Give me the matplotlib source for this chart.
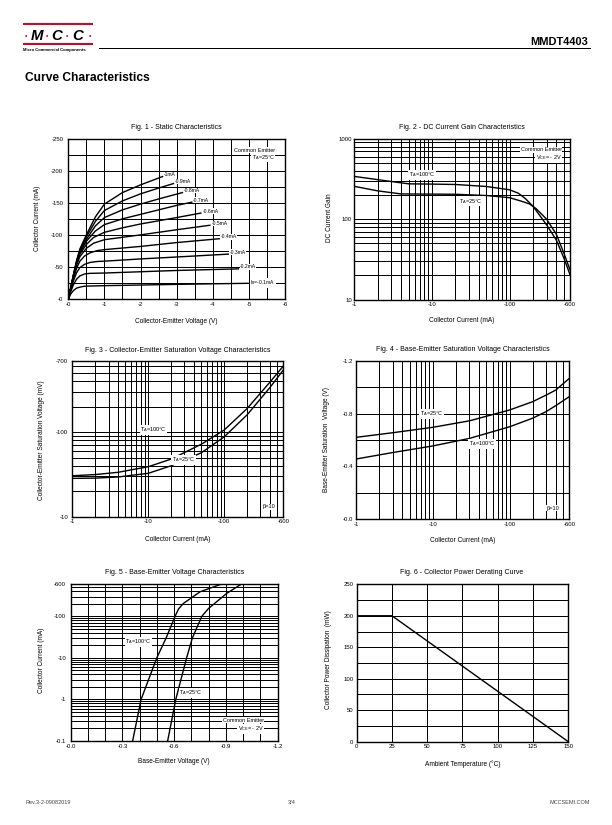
import matplotlib
matplotlib.use('Agg')
import matplotlib.pyplot as plt
from matplotlib.ticker import FixedLocator, FixedFormatter, NullFormatter
from matplotlib.patches import Rectangle

plt.rcParams['font.family'] = ['Liberation Sans', 'DejaVu Sans']
plt.rcParams['mathtext.fontset'] = 'custom'
plt.rcParams['mathtext.rm'] = 'Liberation Sans'
plt.rcParams['mathtext.it'] = 'Liberation Sans:italic'
plt.rcParams['axes.unicode_minus'] = False

# ---- Fig. 1 static characteristics (magnitudes: V, mA) ----
ib_labels = ['I$_\\mathrm{B}$=-0.1mA', '-0.2mA', '-0.3mA', '-0.4mA', '-0.5mA',
             '-0.6mA', '-0.7mA', '-0.8mA', '-0.9mA', '-1mA']
v_ib01 = [0, 0.07, 0.14, 0.23, 0.32, 0.45, 1, 2, 3, 4, 5.0]
i_ib01 = [0, 8, 13, 17, 18.5, 20, 20.8, 21.8, 22.8, 23.7, 24.5]
v_ib02 = [0, 0.07, 0.14, 0.23, 0.32, 0.45, 0.6, 1, 2, 3, 4.71]
i_ib02 = [0, 12, 22, 31, 36, 39, 40, 40.5, 42.5, 44.5, 47]
v_ib03 = [0, 0.07, 0.14, 0.23, 0.32, 0.45, 0.6, 0.8, 1, 2, 3, 4.43]
i_ib03 = [0, 14, 28, 41, 49, 54, 57, 58.5, 59, 62.5, 65.5, 70]
v_ib04 = [0, 0.07, 0.14, 0.23, 0.32, 0.45, 0.6, 0.8, 1, 2, 3, 4.18]
i_ib04 = [0, 16, 32, 48, 59, 67, 72, 75.5, 77, 82, 88, 94]
v_ib05 = [0, 0.07, 0.14, 0.23, 0.32, 0.5, 0.7, 1, 2, 3, 3.92]
i_ib05 = [0, 17, 34, 53, 66, 79, 87, 92.5, 100, 108, 115]
v_ib06 = [0, 0.07, 0.14, 0.23, 0.32, 0.5, 0.7, 1, 1.5, 2, 3, 3.67]
i_ib06 = [0, 17, 35, 55, 70, 85, 96, 104, 111, 117, 127, 134]
v_ib07 = [0, 0.07, 0.14, 0.23, 0.32, 0.5, 0.75, 1, 1.5, 2, 3, 3.42]
i_ib07 = [0, 18, 36, 57, 72, 90, 106, 116, 125, 132, 146, 151]
v_ib08 = [0, 0.07, 0.14, 0.23, 0.32, 0.5, 0.75, 1, 1.5, 2, 2.5, 3.16]
i_ib08 = [0, 18, 36, 58, 74, 93, 114, 127, 139, 148, 156, 166]
v_ib09 = [0, 0.07, 0.14, 0.23, 0.32, 0.5, 0.75, 1, 1.5, 2, 2.5, 2.91]
i_ib09 = [0, 18, 37, 59, 76, 97, 121, 138, 153, 164, 173, 180]
v_ib10 = [0, 0.07, 0.14, 0.23, 0.32, 0.5, 0.75, 1, 1.5, 2, 2.61]
i_ib10 = [0, 18, 37, 60, 78, 100, 128, 148, 166, 178, 191]

# ---- Fig. 2 DC current gain ----
ic_hfe = [1, 2, 5, 10, 20, 50, 100, 130, 160, 200, 300, 400, 500, 600]
hfe_100c = [340, 310, 275, 273, 270, 255, 232, 210, 180, 145, 85, 55, 33, 20.5]
ic_hfe25 = [1, 2, 4, 10, 20, 50, 100, 140, 180, 220, 300, 400, 500, 600]
hfe_25c = [256, 225, 206, 205, 204, 197, 185, 168, 155, 135, 100, 65, 38, 23.5]

# ---- Fig. 3 VCE(sat) ----
ic_sat = [1, 2, 4, 10, 20, 50, 100, 200, 400, 600]
vcesat_100c = [30.5, 31.5, 33.5, 39, 48, 72, 106, 190, 390, 605]
vcesat_25c = [28.4, 28.6, 29.5, 32.6, 40, 57, 88, 160, 337, 543]

# ---- Fig. 4 VBE(sat) ----
ic_besat = [1, 3, 10, 30, 100, 200, 300, 400, 600]
vbesat_25c = [0.62, 0.655, 0.696, 0.745, 0.827, 0.89, 0.94, 0.978, 1.066]
vbesat_100c = [0.456, 0.505, 0.555, 0.612, 0.70, 0.765, 0.815, 0.86, 0.928]

# ---- Fig. 5 VBE(on) ----
vbe_100c = [0.359, 0.408, 0.499, 0.553, 0.605, 0.625, 0.653, 0.75, 0.875]
ic_vbe100 = [0.1, 1, 10, 30, 100, 150, 204, 390, 600]
vbe_25c = [0.562, 0.609, 0.672, 0.705, 0.76, 0.80, 0.904, 0.99]
ic_vbe25 = [0.1, 1, 10, 30, 100, 156, 355, 600]

# ---- Fig. 6 power derating ----
temp_c = [0, 25, 150]
power_mw = [200, 200, 0]

W, H = 612, 825
fig = plt.figure(figsize=(W / 72, H / 72), dpi=72)
fig.patch.set_facecolor('white')


def box(x0, y0, x1, y1):
    return [x0 / W, 1 - y1 / H, (x1 - x0) / W, (y1 - y0) / H]


def style(ax, xt, xl, xg, yt, yl, yg, ypad):
    ax.xaxis.set_major_locator(FixedLocator(xt))
    ax.xaxis.set_major_formatter(FixedFormatter(xl))
    ax.xaxis.set_minor_locator(FixedLocator(xg))
    ax.xaxis.set_minor_formatter(NullFormatter())
    ax.yaxis.set_major_locator(FixedLocator(yt))
    ax.yaxis.set_major_formatter(FixedFormatter(yl))
    ax.yaxis.set_minor_locator(FixedLocator(yg))
    ax.yaxis.set_minor_formatter(NullFormatter())
    ax.set_axisbelow(True)
    ax.grid(True, which='both', color='black', lw=1.0)
    ax.tick_params(which='both', length=0, labelsize=6)
    ax.tick_params(axis='x', pad=2.5)
    ax.tick_params(axis='y', pad=ypad)
    for s in ax.spines.values():
        s.set_linewidth(1.4)


def labels(ax, xlab, ylab, xy, yx, yy):
    ax.set_xlabel(xlab, fontsize=6.5)
    ax.set_ylabel(ylab, fontsize=6.5)
    ax.xaxis.set_label_coords(0.5, xy)
    ax.yaxis.set_label_coords(yx, yy)


def note(ax, x, y, s, ha='left', size=5.5):
    ax.text(x, y, s, ha=ha, va='center', fontsize=size, zorder=5,
            bbox=dict(fc='white', ec='none', pad=0.5))


def title(x, y, s):
    fig.text(x / W, 1 - y / H, s, ha='center', va='center', fontsize=7)


logs_x = [m * 10 ** k for k in range(0, 3) for m in range(1, 10) if m * 10 ** k <= 600]
lw = 1.4

# ---------- header ----------
for yb in (24.3, 43.6):
    fig.add_artist(Rectangle((22.7 / W, 1 - (yb + 1) / H), 70.5 / W, 2 / H,
                             transform=fig.transFigure, color='#e0001b', lw=0))
for xd in (25.7, 46.7, 66.7, 90.0):
    fig.text(xd / W, 1 - 36.2 / H, '•', color='#e0001b', fontsize=7,
             ha='center', va='center')
for xl_, ch in ((36.5, 'M'), (56.7, 'C'), (78.0, 'C')):
    fig.text(xl_ / W, 1 - 36 / H, ch, fontsize=15, fontweight='bold', style='italic',
             ha='center', va='center')
fig.text(22.7 / W, 1 - 50.5 / H, 'Micro Commercial Components', fontsize=4.3,
         fontweight='bold', ha='left', va='center')
fig.add_artist(plt.Line2D([99 / W, 590 / W], [1 - 48.3 / H] * 2, color='black', lw=1,
                          transform=fig.transFigure))
fig.text(588 / W, 1 - 41.7 / H, 'MMDT4403', fontsize=11, fontweight='bold',
         ha='right', va='center')
fig.text(25 / W, 1 - 78.3 / H, 'Curve Characteristics', fontsize=12, fontweight='bold',
         ha='left', va='center')

# ---------- Fig. 1 ----------
ax1 = fig.add_axes(box(68.3, 138.7, 285, 299))
curves1 = [(v_ib01, i_ib01), (v_ib02, i_ib02), (v_ib03, i_ib03), (v_ib04, i_ib04),
           (v_ib05, i_ib05), (v_ib06, i_ib06), (v_ib07, i_ib07), (v_ib08, i_ib08),
           (v_ib09, i_ib09), (v_ib10, i_ib10)]
for (v, i), lab in zip(curves1, ib_labels):
    ax1.plot(v, i, color='black', lw=lw)
    dy = 0.5 if lab.startswith('I') else 3
    ax1.text(v[-1] + 0.04, i[-1] + dy, lab, fontsize=5, ha='left', va='center', zorder=5,
             bbox=dict(fc='white', ec='none', pad=0.3))
ax1.set_xlim(0, 6)
ax1.set_ylim(0, 250)
style(ax1, range(0, 7), ['-%d' % v for v in range(0, 7)], [k * 0.5 for k in range(13)],
      range(0, 251, 50), ['-%d' % v for v in range(0, 251, 50)], range(0, 251, 25), 5)
labels(ax1, 'Collector-Emitter Voltage (V)', 'Collector Current (mA)', -0.118, -0.126, 0.505)
note(ax1, 5.72, 232, 'Common Emitter', ha='right')
note(ax1, 5.72, 221, 'T$_\\mathrm{A}$=25°C', ha='right')
title(176.6, 127.3, 'Fig. 1 - Static Characteristics')

# ---------- Fig. 2 ----------
ax2 = fig.add_axes(box(354.3, 138.7, 570, 299.7))
ax2.set_xscale('log')
ax2.set_yscale('log')
ax2.plot(ic_hfe, hfe_100c, color='black', lw=lw)
ax2.plot(ic_hfe25, hfe_25c, color='black', lw=lw)
ax2.set_xlim(1, 600)
ax2.set_ylim(10, 1000)
style(ax2, [1, 10, 100, 600], ['-1', '-10', '-100', '-600'], logs_x,
      [10, 100, 1000], ['10', '100', '1000'],
      [m * 10 ** k for k in (1, 2) for m in range(1, 10)], 2.5)
labels(ax2, 'Collector Current (mA)', 'DC Current Gain', -0.107, -0.097, 0.507)
note(ax2, 5.06, 357, 'T$_\\mathrm{A}$=100°C')
note(ax2, 22.3, 168, 'T$_\\mathrm{A}$=25°C')
note(ax2, 473, 724, 'Common Emitter', ha='right')
note(ax2, 473, 575, 'V$_\\mathrm{CE}$= - 2V', ha='right')
title(462, 127.3, 'Fig. 2 - DC Current Gain Characteristics')

# ---------- Fig. 3 ----------
ax3 = fig.add_axes(box(72.3, 360.7, 283.3, 516.7))
ax3.set_xscale('log')
ax3.set_yscale('log')
ax3.plot(ic_sat, vcesat_100c, color='black', lw=lw)
ax3.plot(ic_sat, vcesat_25c, color='black', lw=lw)
ax3.set_xlim(1, 600)
ax3.set_ylim(10, 700)
style(ax3, [1, 10, 100, 600], ['-1', '-10', '-100', '-600'], logs_x,
      [10, 100, 700], ['-10', '-100', '-700'],
      [m * 10 ** k for k in (1, 2) for m in range(1, 10) if m * 10 ** k <= 700], 4)
labels(ax3, 'Collector Current (mA)', 'Collector-Emitter Saturation Voltage (mV)',
       -0.124, -0.129, 0.49)
note(ax3, 7.8, 106, 'T$_\\mathrm{A}$=100°C')
note(ax3, 20.4, 46.8, 'T$_\\mathrm{A}$=25°C')
note(ax3, 324, 13.1, 'β=10')
title(177.8, 350, 'Fig. 3 - Collector-Emitter Saturation Voltage Characteristics')

# ---------- Fig. 4 ----------
ax4 = fig.add_axes(box(356, 360.7, 569.3, 519.3))
ax4.set_xscale('log')
ax4.plot(ic_besat, vbesat_25c, color='black', lw=lw)
ax4.plot(ic_besat, vbesat_100c, color='black', lw=lw)
ax4.set_xlim(1, 600)
ax4.set_ylim(0, 1.2)
style(ax4, [1, 10, 100, 600], ['-1', '-10', '-100', '-600'], logs_x,
      [0, 0.4, 0.8, 1.2], ['-0.0', '-0.4', '-0.8', '-1.2'], [0.2, 0.6, 1.0], 3.3)
labels(ax4, 'Collector Current (mA)', 'Base-Emitter Saturation  Voltage (V)',
       -0.113, -0.122, 0.5)
note(ax4, 6.8, 0.797, 'T$_\\mathrm{A}$=25°C')
note(ax4, 29.6, 0.57, 'T$_\\mathrm{A}$=100°C')
note(ax4, 307, 0.085, 'β=10')
title(462.7, 349.3, 'Fig. 4 - Base-Emitter Saturation Voltage Characteristics')

# ---------- Fig. 5 ----------
ax5 = fig.add_axes(box(70.7, 584, 277.7, 741))
ax5.set_yscale('log')
ax5.plot(vbe_100c, ic_vbe100, color='black', lw=lw)
ax5.plot(vbe_25c, ic_vbe25, color='black', lw=lw)
ax5.set_xlim(0, 1.2)
ax5.set_ylim(0.1, 600)
style(ax5, [0, 0.3, 0.6, 0.9, 1.2], ['-0.0', '-0.3', '-0.6', '-0.9', '-1.2'],
      [k * 0.1 for k in range(13)],
      [0.1, 1, 10, 100, 600], ['-0.1', '-1', '-10', '-100', '-600'],
      [m * 10.0 ** k for k in range(-1, 3) for m in range(1, 10) if m * 10.0 ** k <= 600], 4.5)
labels(ax5, 'Base-Emitter Voltage (V)', 'Collector Current (mA)', -0.106, -0.124, 0.516)
note(ax5, 0.315, 24.5, 'T$_\\mathrm{A}$=100°C')
note(ax5, 0.628, 1.43, 'T$_\\mathrm{A}$=25°C')
note(ax5, 1.12, 0.32, 'Common Emitter', ha='right')
note(ax5, 1.12, 0.195, 'V$_\\mathrm{CE}$= - 2V', ha='right')
title(175, 572.7, 'Fig. 5 - Base-Emitter Voltage Characteristics')

# ---------- Fig. 6 ----------
ax6 = fig.add_axes(box(356.7, 584.3, 568.3, 741.7))
ax6.plot(temp_c, power_mw, color='black', lw=lw)
ax6.set_xlim(0, 150)
ax6.set_ylim(0, 250)
style(ax6, range(0, 151, 25), [str(v) for v in range(0, 151, 25)], range(0, 151, 25),
      range(0, 251, 50), [str(v) for v in range(0, 251, 50)], range(0, 251, 25), 3.4)
labels(ax6, 'Ambient Temperature (°C)', 'Collector Power Dissipation  (mW)',
       -0.116, -0.118, 0.52)
title(462, 572.7, 'Fig. 6 - Collector Power Derating Curve')

# ---------- footer ----------
fig.text(25 / W, 1 - 803 / H, 'Rev.3-2-09082019', fontsize=5.5, color='#444444',
         ha='left', va='center')
fig.text(292 / W, 1 - 803 / H, '3/4', fontsize=5.5, color='#444444', ha='center', va='center')
fig.text(590 / W, 1 - 803 / H, 'MCCSEMI.COM', fontsize=5.5, color='#444444',
         ha='right', va='center')

fig.savefig('out.png', dpi=72, facecolor='white')
